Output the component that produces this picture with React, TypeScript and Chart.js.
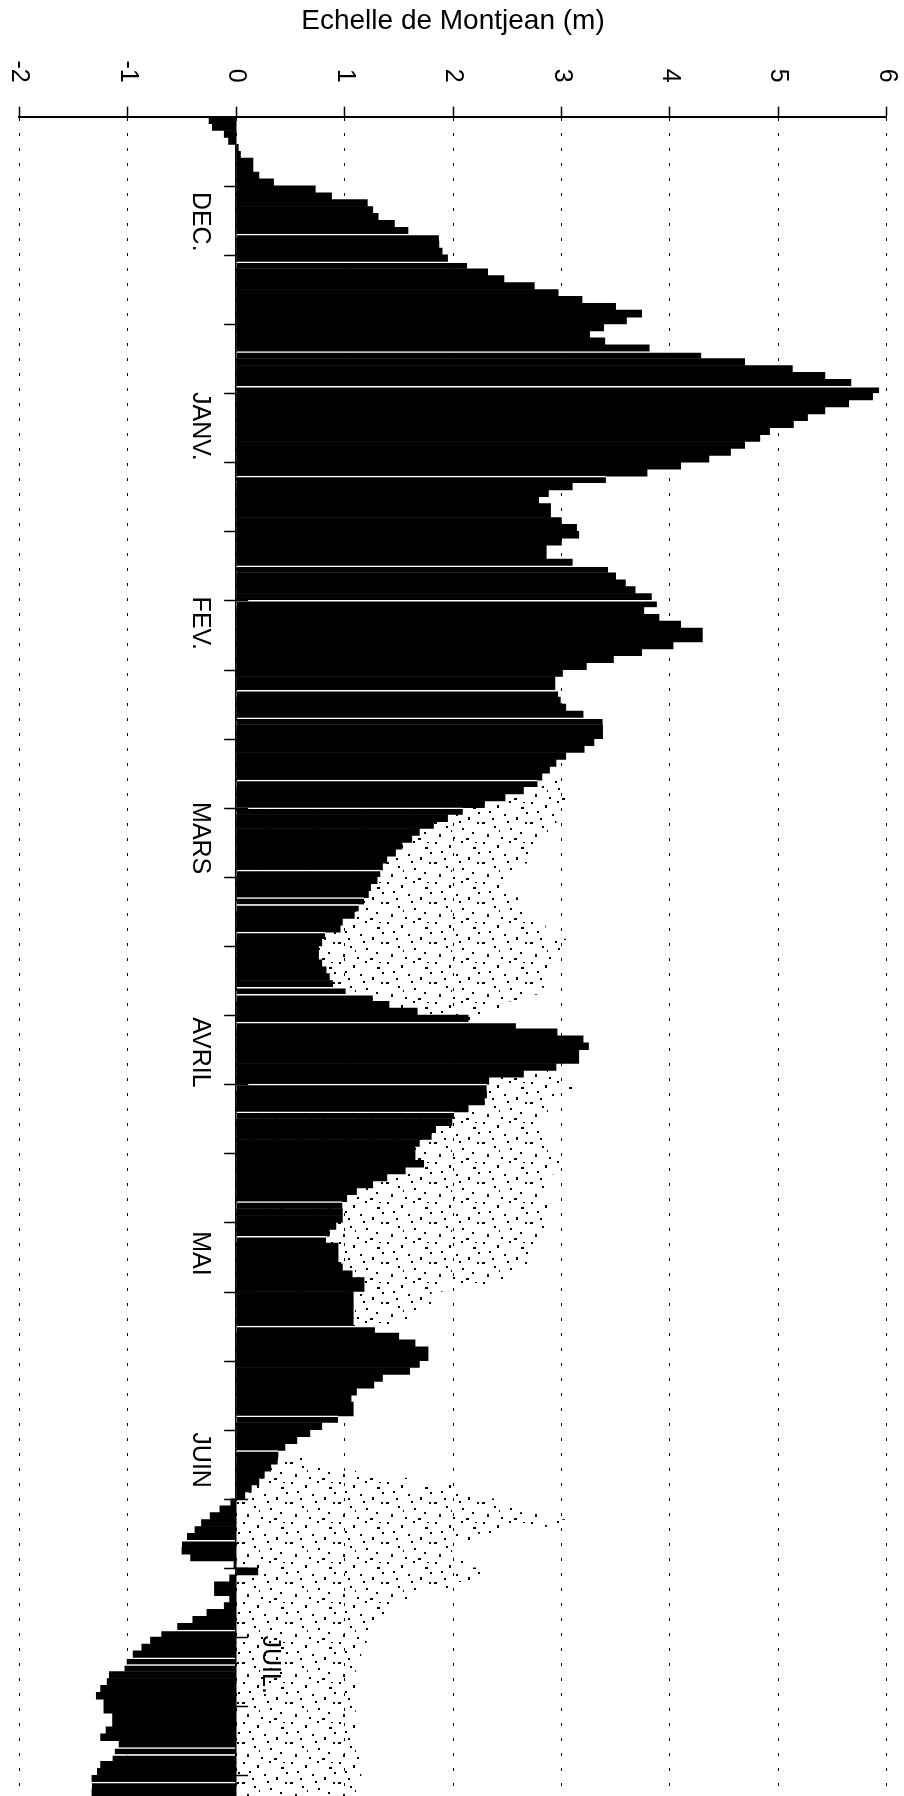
import React, { useEffect, useRef } from 'react';
import { Chart, registerables } from 'chart.js';

Chart.register(...registerables);

const FONT = '"Liberation Sans", Arial, Helvetica, sans-serif';
const TITLE = 'Echelle de Montjean (m)';

// value axis ticks (m)
const valueTicks = [-2, -1, 0, 1, 2, 3, 4, 5, 6];

// daily water level at Montjean (m), one value per day, from early December
const levels = [
  -0.25, -0.22, -0.11, -0.07, 0.02, 0.04, 0.155, 0.155, 0.21, 0.345,
  0.73, 0.88, 1.21, 1.26, 1.31, 1.46, 1.585, 1.87, 1.87, 1.9,
  1.95, 2.13, 2.32, 2.47, 2.75, 2.97, 3.19, 3.5, 3.74, 3.6,
  3.39, 3.26, 3.4, 3.81, 4.29, 4.69, 5.13, 5.43, 5.67, 5.93,
  5.87, 5.65, 5.43, 5.27, 5.14, 4.92, 4.83, 4.69, 4.56, 4.36,
  4.1, 3.79, 3.41, 3.1, 2.88, 2.79, 2.9, 2.9, 3.0, 3.14,
  3.16, 3.0, 2.86, 2.86, 3.1, 3.43, 3.5, 3.59, 3.68, 3.83,
  3.88, 3.76, 3.9, 4.1, 4.3, 4.3, 4.03, 3.74, 3.48, 3.23,
  3.01, 2.94, 2.94, 2.97, 2.99, 3.04, 3.2, 3.38, 3.38, 3.38,
  3.3, 3.21, 3.04, 2.95, 2.89, 2.82, 2.78, 2.65, 2.48, 2.29,
  2.09, 1.95, 1.82, 1.69, 1.62, 1.53, 1.47, 1.39, 1.35, 1.33,
  1.3, 1.24, 1.22, 1.18, 1.13, 1.09, 0.98, 0.96, 0.82, 0.79,
  0.76, 0.76, 0.79, 0.83, 0.86, 0.89, 1.01, 1.26, 1.41, 1.67,
  2.14, 2.58, 2.96, 3.2, 3.25, 3.16, 3.16, 2.95, 2.65, 2.33,
  2.31, 2.31, 2.29, 2.14, 2.01, 1.99, 1.84, 1.8, 1.69, 1.65,
  1.65, 1.73, 1.56, 1.39, 1.26, 1.11, 1.02, 0.98, 0.98, 0.98,
  0.92, 0.86, 0.83, 0.94, 0.94, 0.94, 0.98, 1.07, 1.18, 1.18,
  1.08, 1.08, 1.08, 1.08, 1.08, 1.28, 1.5, 1.65, 1.77, 1.77,
  1.69, 1.6, 1.35, 1.27, 1.11, 1.06, 1.08, 1.08, 0.94, 0.79,
  0.68, 0.56, 0.45, 0.39, 0.38, 0.32, 0.26, 0.21, 0.14, 0.08,
  -0.05, -0.15, -0.24, -0.32, -0.38, -0.45, -0.5, -0.5, -0.42, -0.02,
  0.2, -0.06, -0.2, -0.2, -0.06, -0.11, -0.27, -0.4, -0.54, -0.69,
  -0.79, -0.87, -0.95, -1.01, -1.03, -1.17, -1.19, -1.25, -1.29, -1.22,
  -1.22, -1.14, -1.14, -1.2, -1.25, -1.08, -1.12, -1.14, -1.25, -1.28,
  -1.33, -1.33, -1.33,
];

// stippled (dotted) envelope, three stretches: first day index + values
const stippleMarsStart = 96;
const stippleMars = [
  3.0, 3.0, 3.05, 3.0, 3.0, 2.95, 2.95, 2.9, 2.85, 2.8,
  2.75, 2.7, 2.6, 2.55, 2.5, 2.5, 2.55, 2.6, 2.7, 2.75,
  2.8, 2.85, 2.9, 3.05, 3.05, 3.0, 2.95, 2.95, 2.9, 2.85,
  2.8, 2.7, 2.5, 2.3, 2.2,
];
const stippleMaiStart = 138;
const stippleMai = [
  2.9, 3.0, 3.1, 3.0, 2.9, 2.9, 2.8, 2.8, 2.8,
  2.9, 2.9, 2.95, 3.0, 3.0, 2.95, 2.9, 2.9, 2.85, 2.85,
  2.9, 2.9, 2.9, 2.85, 2.8, 2.8, 2.8, 2.75, 2.7,
  2.6, 2.6, 2.5, 1.9, 1.8, 1.8, 1.7, 1.6, 1.5,
];
const stippleJuinStart = 194;
const stippleJuin = [
  0.7, 0.8, 1.2,
  1.6, 2.0, 2.2, 2.4, 2.6, 2.8, 3.05,
  2.6, 2.2, 2.0, 2.0, 2.0, 2.1, 2.3, 2.2, 2.0,
  1.7, 1.6, 1.5, 1.4, 1.3, 1.3, 1.25, 1.2, 1.2, 1.15,
  1.1, 1.1, 1.1, 1.1, 1.1, 1.1, 1.1, 1.1, 1.1, 1.1, 1.1, 1.1, 1.1,
  1.15, 1.15, 1.15, 1.15, 1.15, 1.15, 1.15,
];

// month labels: centre (day index) and side of the zero line (m)
const monthNames = ['DEC.', 'JANV.', 'FEV.', 'MARS', 'AVRIL', 'MAI', 'JUIN', 'JUIL.'];
const monthCentres = [14.7, 44.3, 72.8, 103.9, 134.9, 164, 193.9, 223.5];
const monthSides = [-0.33, -0.33, -0.33, -0.33, -0.33, -0.33, -0.33, 0.31];

// ten-day ticks along the zero line
const tickEvery = 10;

// days whose top edge shows a thin white break line (scan)
const breakDays = [
  17, 21, 34, 39, 52, 65, 70, 83, 87, 96, 100, 109, 113, 114, 118, 126, 127,
  131, 140, 144, 157, 162, 175, 188, 193, 206, 219, 223, 224, 236, 237, 241,
];

// category labels: consecutive days
const dayLabels = levels.map((_, i) => {
  const d = new Date(Date.UTC(1988, 11, 2 + i));
  return `${d.getUTCDate()}/${d.getUTCMonth() + 1}`;
});

// stipple tile (48 x 40) dot positions and sizes (style)
const stippleDots = [
  [3, 2, 2, 2], [17, 5, 2, 3], [29, 1, 2, 2], [41, 7, 3, 2], [9, 11, 2, 2],
  [24, 14, 2, 2], [36, 17, 2, 3], [45, 22, 2, 2], [2, 22, 3, 2], [14, 26, 2, 2],
  [30, 28, 2, 2], [40, 32, 2, 2], [7, 34, 2, 3], [21, 37, 2, 2], [34, 38, 3, 2],
  [46, 12, 2, 2], [12, 18, 2, 2], [27, 21, 2, 2], [19, 30, 1, 2], [43, 2, 2, 1],
];

function buildStipple() {
  const out: (number | null)[] = levels.map(() => null);
  const put = (start: number, vals: number[]) => {
    vals.forEach((v, k) => {
      out[start + k] = v;
    });
  };
  put(stippleMarsStart, stippleMars);
  put(stippleMaiStart, stippleMai);
  put(stippleJuinStart, stippleJuin);
  return out;
}

const labelPlugin = {
  id: 'rotatedLabels',
  beforeDraw(chart: any) {
    const { ctx } = chart;
    ctx.save();
    ctx.fillStyle = '#fff';
    ctx.fillRect(0, 0, chart.width, chart.height);
    ctx.restore();
  },
  afterDraw(chart: any) {
    const { ctx, chartArea } = chart;
    const x = chart.scales.x;
    const y = chart.scales.y;
    ctx.save();
    ctx.fillStyle = '#000';
    ctx.strokeStyle = '#000';

    // value tick labels, rotated clockwise, ending above the axis
    ctx.font = `25px ${FONT}`;
    ctx.textBaseline = 'middle';
    ctx.textAlign = 'right';
    for (const v of valueTicks) {
      const px = x.getPixelForValue(v);
      ctx.save();
      ctx.translate(px, chartArea.top - 34);
      ctx.rotate(Math.PI / 2);
      ctx.fillText(String(v), 0, 0);
      ctx.restore();
    }

    // ten-day tick marks across the zero line
    const x0 = x.getPixelForValue(0);
    ctx.lineWidth = 1.5;
    for (let i = tickEvery; i < levels.length; i += tickEvery) {
      const py = Math.round(y.getPixelForValue(i - 0.5)) + 0.5;
      ctx.beginPath();
      ctx.moveTo(x0 - 12, py);
      ctx.lineTo(x0 + 12, py);
      ctx.stroke();
    }

    // month labels
    ctx.font = `25px ${FONT}`;
    ctx.textAlign = 'center';
    monthNames.forEach((name, k) => {
      const px = x.getPixelForValue(monthSides[k]);
      const py = y.getPixelForValue(monthCentres[k]);
      ctx.save();
      ctx.translate(px, py);
      ctx.rotate(Math.PI / 2);
      ctx.fillText(name, 0, 0);
      ctx.restore();
    });
    ctx.restore();
  },
};

export default function App() {
  const ref = useRef<HTMLCanvasElement>(null);

  useEffect(() => {
    const canvas = ref.current;
    if (!canvas) return;
    const tile = document.createElement('canvas');
    tile.width = 48;
    tile.height = 40;
    const tctx = tile.getContext('2d')!;
    tctx.fillStyle = '#000';
    for (const [dx, dy, w, h] of stippleDots) tctx.fillRect(dx, dy, w, h);
    const pattern = canvas.getContext('2d')!.createPattern(tile, 'repeat');
    const breaks = new Set(breakDays);

    const chart = new Chart(canvas, {
      type: 'bar',
      data: {
        labels: dayLabels,
        datasets: [
          {
            label: 'Echelle de Montjean',
            data: levels,
            backgroundColor: '#000',
            borderColor: '#fff',
            borderWidth: (c: any) =>
              breaks.has(c.dataIndex) ? { top: 1.5, right: 0, bottom: 0, left: 0 } : 0,
            borderSkipped: false,
            grouped: false,
            order: 0,
            categoryPercentage: 1,
            barPercentage: 1,
          } as any,
          {
            label: 'enveloppe',
            data: buildStipple(),
            backgroundColor: pattern as any,
            borderWidth: 0,
            grouped: false,
            order: 1,
            categoryPercentage: 1,
            barPercentage: 1,
          } as any,
        ],
      },
      options: {
        indexAxis: 'y',
        animation: false,
        responsive: false,
        maintainAspectRatio: false,
        events: [],
        layout: { padding: { left: 19.3, right: 17.3, top: 0, bottom: 0 } },
        plugins: {
          legend: { display: false },
          tooltip: { enabled: false },
          title: {
            display: true,
            text: TITLE,
            color: '#000',
            font: { family: FONT, size: 28, weight: 'normal' as any, lineHeight: 1.2 },
            padding: { top: 4.2, bottom: 68.9 },
          },
        },
        scales: {
          x: {
            type: 'linear',
            position: 'top',
            min: -2,
            max: 6,
            ticks: { stepSize: 1, display: false },
            grid: {
              color: '#000',
              lineWidth: 1,
              drawTicks: true,
              tickLength: 10,
              tickColor: '#000',
              tickWidth: 1.5,
              tickBorderDash: [],
            } as any,
            border: { display: true, color: '#000', width: 2, dash: [3, 12] },
          },
          y: {
            type: 'category',
            position: { x: 0 } as any,
            offset: true,
            ticks: { display: false, autoSkip: false },
            grid: { display: false },
            border: { display: true, color: '#000', width: 1.5, z: 1 } as any,
          },
        },
      },
      plugins: [labelPlugin],
    });
    return () => chart.destroy();
  }, []);

  return (
    <div style={{ position: 'absolute', left: 0, top: 0, width: 904, height: 1796, background: '#fff' }}>
      <canvas ref={ref} width={904} height={1796} style={{ display: 'block', width: 904, height: 1796 }} />
    </div>
  );
}
